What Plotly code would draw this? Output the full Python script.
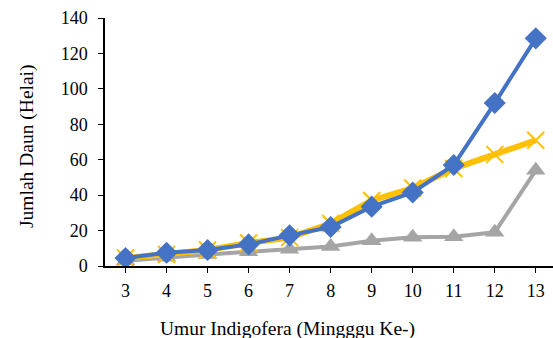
import plotly.graph_objects as go

weeks = [3, 4, 5, 6, 7, 8, 9, 10, 11, 12, 13]
series_blue = [4.5, 7.5, 9, 12.2, 17.3, 22, 33.5, 41.5, 57, 92, 128.5]
series_yellow = [4.5, 6.5, 9, 13, 16, 24, 37, 44, 55, 63, 71]
series_gray = [3, 5, 6.5, 8, 9.5, 11, 14.3, 16.2, 16.5, 19, 54]
y_ticks = [0, 20, 40, 60, 80, 100, 120, 140]

fig = go.Figure()
fig.add_trace(go.Scatter(x=weeks, y=series_gray, mode="lines+markers",
                         line=dict(color="#A5A5A5", width=4),
                         marker=dict(symbol="triangle-up", size=17, color="#A5A5A5")))
fig.add_trace(go.Scatter(x=weeks, y=series_yellow, mode="lines+markers",
                         line=dict(color="#FFC000", width=6),
                         marker=dict(symbol="x-thin", size=17,
                                     line=dict(color="#FFC000", width=2))))
fig.add_trace(go.Scatter(x=weeks, y=series_blue, mode="lines+markers",
                         line=dict(color="#4472C4", width=4),
                         marker=dict(symbol="diamond", size=17, color="#4472C4")))

font = dict(family="Liberation Serif, Times New Roman, serif", size=18, color="black")
tfont = dict(family="Liberation Serif, Times New Roman, serif", size=19.5, color="black")
fig.update_layout(
    width=553, height=338,
    margin=dict(l=105, r=0, t=18, b=72),
    paper_bgcolor="white", plot_bgcolor="white",
    showlegend=False, font=font,
    xaxis=dict(range=[2.5, 13.42], tickvals=weeks, ticktext=[str(w) for w in weeks],
               showgrid=False, zeroline=False, showline=True, linecolor="black", linewidth=1.5,
               ticks="outside", ticklen=5, tickcolor="black", ticklabelstandoff=3),
    yaxis=dict(range=[0, 140], tickvals=y_ticks, showgrid=False, zeroline=False,
               showline=True, linecolor="black", linewidth=1.5,
               ticks="outside", ticklen=5, tickcolor="black", ticklabelstandoff=7),
    annotations=[
        dict(text="Umur Indigofera (Mingggu Ke-)", xref="paper", yref="paper",
             x=(287 - 105) / 448, y=(266 - 329) / 248, xanchor="center", yanchor="middle",
             showarrow=False, font=tfont),
        dict(text="Jumlah Daun (Helai)", xref="paper", yref="paper",
             x=(27 - 105) / 448, y=(266 - 146) / 248, xanchor="center", yanchor="middle",
             textangle=-90, showarrow=False, font=tfont),
    ],
)
fig.write_html("out.html", config={"displayModeBar": False})
with open("out.html", "r", encoding="utf-8") as f:
    html = f.read()
html = html.replace("<body>", '<body style="margin:0;padding:0;overflow:hidden">', 1)
with open("out.html", "w", encoding="utf-8") as f:
    f.write(html)
